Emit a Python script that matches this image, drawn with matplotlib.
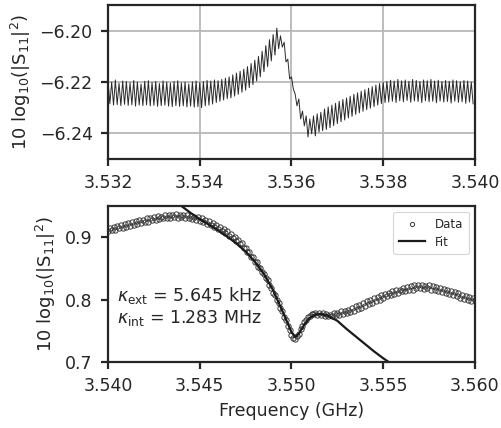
import numpy as np
import matplotlib
matplotlib.use("Agg")
import matplotlib.pyplot as plt

# ---------------- data: top panel (ripple peaks / troughs) ----------------
top_start = 3.532
top_step = 0.00004   # half ripple period (GHz)
top_hi = [-6.2195, -6.2200, -6.2192, -6.2205, -6.2196, -6.2198, -6.2203, -6.2194, -6.2200, -6.2208,
          -6.2197, -6.2195, -6.2202, -6.2198, -6.2206, -6.2196, -6.2200, -6.2204, -6.2198, -6.2195,
          -6.2203, -6.2200, -6.2207, -6.2199, -6.2196, -6.2202, -6.2198, -6.2194, -6.2196, -6.2192,
          -6.2195, -6.2190, -6.2185, -6.2180, -6.2172, -6.2165, -6.2158, -6.2150, -6.2140, -6.2128,
          -6.2115, -6.2100, -6.2080, -6.2058, -6.2035, -6.2015, -6.1990, -6.2020, -6.2045, -6.2111,
          -6.2180, -6.2247, -6.2266, -6.2313, -6.2332, -6.2344, -6.2332, -6.2324, -6.2318, -6.2305,
          -6.2297, -6.2290, -6.2283, -6.2275, -6.2268, -6.2262, -6.2255, -6.2248, -6.2242, -6.2236,
          -6.2230, -6.2224, -6.2218, -6.2212, -6.2206, -6.2202,
          -6.2198, -6.2193, -6.2196, -6.2190, -6.2195, -6.2192, -6.2197, -6.2190, -6.2194, -6.2198,
          -6.2192, -6.2195, -6.2190, -6.2196, -6.2193, -6.2198, -6.2194, -6.2197, -6.2192, -6.2195,
          -6.2199, -6.2194, -6.2196, -6.2200]
top_lo = [-6.2285, -6.2290, -6.2288, -6.2292, -6.2287, -6.2291, -6.2289, -6.2294, -6.2290, -6.2292,
          -6.2289, -6.2293, -6.2291, -6.2295, -6.2292, -6.2290, -6.2294, -6.2296, -6.2292, -6.2295,
          -6.2293, -6.2297, -6.2294, -6.2298, -6.2296, -6.2300, -6.2293, -6.2290, -6.2286, -6.2280,
          -6.2275, -6.2270, -6.2265, -6.2262, -6.2255, -6.2248, -6.2240, -6.2232, -6.2222, -6.2210,
          -6.2196, -6.2180, -6.2160, -6.2140, -6.2118, -6.2095, -6.2070, -6.2064, -6.2122, -6.2188,
          -6.2227, -6.2293, -6.2344, -6.2371, -6.2414, -6.2402, -6.2410, -6.2395, -6.2390, -6.2385,
          -6.2378, -6.2370, -6.2362, -6.2355, -6.2348, -6.2340, -6.2334, -6.2326, -6.2320, -6.2314,
          -6.2308, -6.2302, -6.2296, -6.2290, -6.2284, -6.2280,
          -6.2278, -6.2275, -6.2280, -6.2273, -6.2277, -6.2272, -6.2279, -6.2274, -6.2276, -6.2280,
          -6.2273, -6.2277, -6.2275, -6.2281, -6.2274, -6.2278, -6.2276, -6.2282, -6.2275, -6.2279,
          -6.2277, -6.2283, -6.2278, -6.2285]

# ---------------- data: bottom panel ----------------
bot_start = 3.540
bot_step = 0.0001
bot_data = [0.910, 0.915, 0.911, 0.917, 0.912, 0.918, 0.914, 0.920, 0.915, 0.921,
            0.917, 0.923, 0.918, 0.924, 0.920, 0.926, 0.921, 0.927, 0.923, 0.928,
            0.924, 0.930, 0.925, 0.931, 0.927, 0.932, 0.928, 0.934, 0.929, 0.933,
            0.930, 0.935, 0.931, 0.936, 0.931, 0.935, 0.932, 0.937, 0.931, 0.936,
            0.932, 0.936, 0.930, 0.935, 0.931, 0.934, 0.929, 0.933, 0.928, 0.932,
            0.926, 0.930, 0.924, 0.928, 0.921, 0.926, 0.919, 0.922, 0.916, 0.919,
            0.913, 0.917, 0.910, 0.913, 0.906, 0.910, 0.902, 0.905, 0.898, 0.901,
            0.894, 0.895, 0.889, 0.890, 0.883, 0.883, 0.877, 0.876, 0.869, 0.868,
            0.861, 0.860, 0.853, 0.851, 0.844, 0.841, 0.834, 0.831, 0.823, 0.819,
            0.811, 0.807, 0.799, 0.795, 0.786, 0.781, 0.772, 0.767, 0.758, 0.752,
            0.744, 0.739, 0.737, 0.742, 0.745, 0.753, 0.757, 0.764, 0.767, 0.772,
            0.773, 0.777, 0.777, 0.778, 0.776, 0.778, 0.775, 0.778, 0.774, 0.777,
            0.773, 0.776, 0.774, 0.778, 0.775, 0.779, 0.775, 0.781, 0.777, 0.782,
            0.779, 0.784, 0.780, 0.787, 0.782, 0.789, 0.785, 0.792, 0.787, 0.794,
            0.790, 0.797, 0.793, 0.799, 0.795, 0.802, 0.797, 0.804, 0.800, 0.807,
            0.803, 0.809, 0.805, 0.811, 0.807, 0.813, 0.809, 0.815, 0.810, 0.816,
            0.813, 0.819, 0.814, 0.820, 0.815, 0.822, 0.816, 0.823, 0.818, 0.824,
            0.818, 0.823, 0.817, 0.822, 0.818, 0.823, 0.816, 0.821, 0.815, 0.820,
            0.814, 0.819, 0.812, 0.817, 0.811, 0.815, 0.809, 0.814, 0.807, 0.812,
            0.805, 0.810, 0.803, 0.808, 0.801, 0.806, 0.799, 0.804, 0.798, 0.802, 0.799]
fit_freq = [3.5438, 3.5440, 3.5445, 3.5450, 3.5455, 3.5460, 3.5465, 3.5470, 3.5475, 3.5480,
            3.5485, 3.5490, 3.5495, 3.5500, 3.5502, 3.5504, 3.5507, 3.5510, 3.5513, 3.5516,
            3.5520, 3.5525, 3.5530, 3.5535, 3.5540, 3.5545, 3.5550, 3.5556]
fit_val = [0.956, 0.950, 0.939, 0.929, 0.920, 0.911, 0.901, 0.890, 0.877, 0.861,
           0.841, 0.815, 0.782, 0.748, 0.740, 0.745, 0.760, 0.771, 0.776, 0.777,
           0.774, 0.766, 0.753, 0.741, 0.729, 0.717, 0.706, 0.694]

top_xticks = [3.532, 3.534, 3.536, 3.538, 3.540]
top_yticks = [-6.24, -6.22, -6.20]
bot_xticks = [3.540, 3.545, 3.550, 3.555, 3.560]
bot_yticks = [0.7, 0.8, 0.9]
ylabel = r'10 log$_{10}$(|S$_{11}$|$^2$)'
xlabel = 'Frequency (GHz)'
kappa_ext = r'$\kappa_{\rm ext}$ = 5.645 kHz'
kappa_int = r'$\kappa_{\rm int}$ = 1.283 MHz'

# ---------------- plotting ----------------
dark = '#262626'
plt.rcParams['font.family'] = ['DejaVu Sans']
plt.rcParams['mathtext.fontset'] = 'dejavusans'
plt.rcParams['text.color'] = dark
plt.rcParams['axes.labelcolor'] = dark
plt.rcParams['xtick.color'] = dark
plt.rcParams['ytick.color'] = dark

fig = plt.figure(figsize=(5.01, 4.28), dpi=100)
ax1 = fig.add_axes([0.2156, 0.6285, 0.948 - 0.2156, 0.9883 - 0.6285])
ax2 = fig.add_axes([0.2156, 0.1542, 0.948 - 0.2156, 0.5187 - 0.1542])

# top trace: interleave peaks and troughs
top_y = np.column_stack([top_hi, top_lo]).ravel()
top_x = top_start + top_step * np.arange(len(top_y))
ax1.plot(top_x, top_y, color='#2a2a2a', lw=0.7)
ax1.set_xlim(3.532, 3.540)
ax1.set_ylim(-6.25, -6.19)
ax1.set_xticks(top_xticks)
ax1.set_yticks(top_yticks)
ax1.set_xticklabels([f'{v:.3f}' for v in top_xticks])
ax1.set_yticklabels([f'{v:.2f}'.replace('-', '\u2212') for v in top_yticks])
ax1.grid(True, color='#b8b8b8', lw=1.3)
ax1.set_axisbelow(True)
ax1.set_ylabel(ylabel, fontsize=13, labelpad=5)

bot_x = bot_start + bot_step * np.arange(len(bot_data))
ax2.plot(bot_x, bot_data, ls='none', marker='o', ms=3.8, mfc='none',
         mec='#3a3a3a', mew=0.7, label='Data')
ax2.plot(fit_freq, fit_val, color='#1a1a1a', lw=1.6, label='Fit')
ax2.set_xlim(3.540, 3.560)
ax2.set_ylim(0.7, 0.95)
ax2.set_xticks(bot_xticks)
ax2.set_yticks(bot_yticks)
ax2.set_xticklabels([f'{v:.3f}' for v in bot_xticks])
ax2.set_yticklabels([f'{v:.1f}' for v in bot_yticks])
ax2.set_ylabel(ylabel, fontsize=13, labelpad=5)
ax2.set_xlabel(xlabel, fontsize=12.5, labelpad=5)
ax2.text(3.5405, 0.807, kappa_ext, fontsize=12.5, va='center', ha='left')
ax2.text(3.5405, 0.770, kappa_int, fontsize=12.5, va='center', ha='left')
leg = ax2.legend(loc='upper right', fontsize=8.5, frameon=True, fancybox=True,
                 edgecolor='#cccccc', handlelength=2.2, borderpad=0.5,
                 labelspacing=0.4, markerscale=0.8)
leg.get_frame().set_linewidth(0.8)

for ax in (ax1, ax2):
    for s in ax.spines.values():
        s.set_linewidth(1.6)
        s.set_color(dark)
    ax.tick_params(axis='both', labelsize=12.5, width=1.6, length=5, direction='out', pad=6)

fig.savefig('out.png', dpi=100)
